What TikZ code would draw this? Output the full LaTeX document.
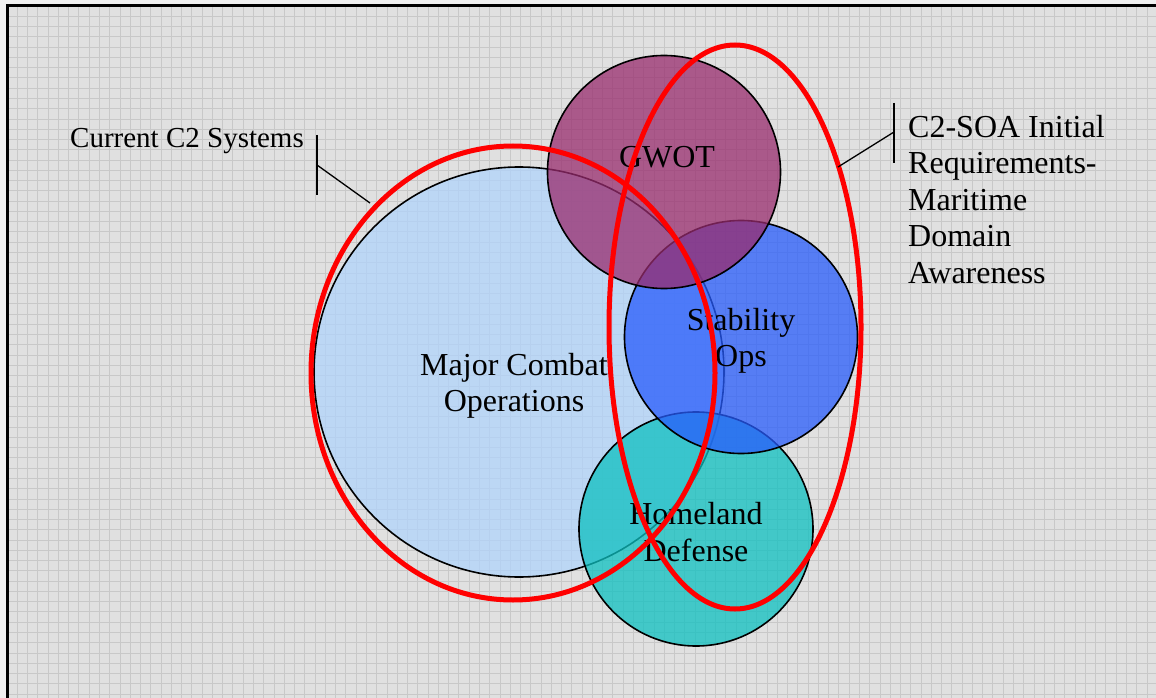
\documentclass[tikz,border=0pt]{standalone}
\usepackage{fontspec}
\setmainfont{Liberation Serif}
\usetikzlibrary{shapes.geometric}
\definecolor{bgfill}{RGB}{224,224,224}
\definecolor{gridc}{RGB}{200,200,200}
\definecolor{mcofill}{RGB}{176,212,252}
\definecolor{gwotfill}{RGB}{152,44,110}
\definecolor{stabfill}{RGB}{40,92,252}
\definecolor{homefill}{RGB}{14,192,192}
\definecolor{ringred}{RGB}{255,0,0}
\tikzset{
  blob/.style={circle, draw=black, line width=1.6bp, fill opacity=0.75, draw opacity=1, inner sep=0pt},
  ring/.style={ellipse, draw=ringred, line width=5bp, inner sep=0pt},
  lbl/.style={inner sep=0pt, font=\fontsize{32bp}{36.5bp}\selectfont, align=center},
  side/.style={inner sep=0pt, align=left},
  lead/.style={draw=black, line width=1.3bp}
}
\begin{document}
\begin{tikzpicture}[x=1bp,y=-1bp]
\useasboundingbox (0,0) rectangle (1156,698);
\fill[white!94!black] (0,0) rectangle (1156,698);
\fill[bgfill] (7,6) rectangle (1160,702);
\begin{scope}
\clip (7,6) rectangle (1160,702);
\foreach \i in {1,...,113} {\draw[gridc, line width=0.9bp] (7+10.27*\i,6) -- (7+10.27*\i,702);}
\foreach \j in {1,...,68} {\draw[gridc, line width=0.9bp] (7,6+10.27*\j) -- (1160,6+10.27*\j);}
\end{scope}
\draw[black, line width=3bp] (1170,6) -- (7,6) -- (7,710);

% circles
\node[blob, fill=mcofill, minimum size=410bp] (mco) at (519,372) {};
\node[blob, fill=homefill, minimum size=234bp] (hd) at (696,529) {};
\node[blob, fill=stabfill, minimum size=233bp] (so) at (741,337) {};
\node[blob, fill=gwotfill, minimum size=233bp] (gw) at (664,172) {};

% circle labels
\node[lbl] (gwt) at (667,157) {GWOT};
\node[lbl] (sot) at (741,341) {Stability\\Ops};
\node[lbl] (mcot) at (514,386) {Major Combat\\Operations};
\node[lbl] (hdt) at (696,532) {Homeland\\Defense};

% red rings
\node[ring, minimum width=404bp, minimum height=454bp] (c2) at (513,373) {};
\node[ring, minimum width=252bp, minimum height=564bp] (soa) at (735,327) {};

% side labels
\node[side, anchor=west, font=\fontsize{29bp}{34bp}\selectfont] (c2t) at (70,141) {Current C2 Systems};
\node[side, anchor=north west, font=\fontsize{32bp}{36.5bp}\selectfont] (soat) at (908,115) {C2-SOA Initial\\Requirements-\\Maritime\\Domain\\Awareness};

% leaders
\coordinate (lb1) at (317,135);
\coordinate (lb2) at (317,195);
\coordinate (lbm) at (317,165);
\coordinate (lbe) at (370,203);
\draw[lead] (lb1) -- (lb2);
\draw[lead] (lbm) -- (lbe);
\coordinate (rb1) at (894,103);
\coordinate (rb2) at (894,163);
\coordinate (rbm) at (894,132);
\coordinate (rbe) at (838,167);
\draw[lead] (rb1) -- (rb2);
\draw[lead] (rbm) -- (rbe);
\end{tikzpicture}
\end{document}
